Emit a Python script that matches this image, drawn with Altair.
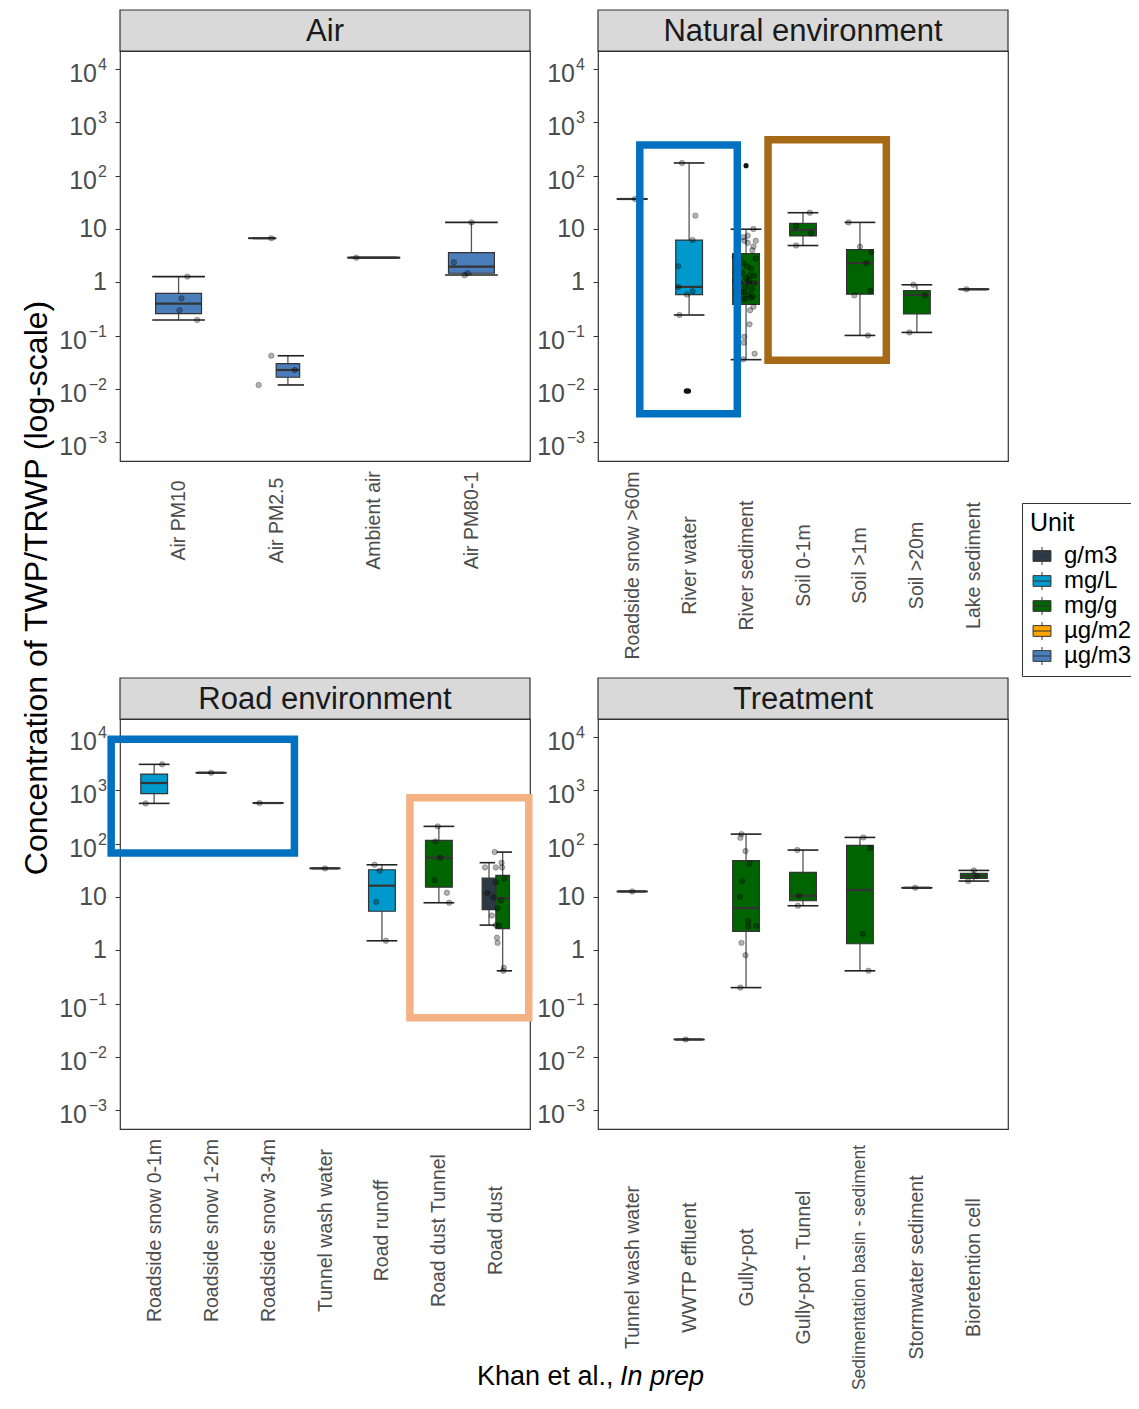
import altair as alt
import pandas as pd

# ---------------------------------------------------------------- legend / units
UNITS = ["g/m3", "mg/L", "mg/g", "µg/m2", "µg/m3"]
UNIT_COLORS = ["#2B3A44", "#0099CC", "#006400", "#FFA500", "#4A7EBB"]

Y_TICKS = [0.001, 0.01, 0.1, 1, 10, 100, 1000, 10000]
Y_TICK_BASE = ["10", "10", "10", "1", "10", "10", "10", "10"]
Y_TICK_EXP = ["−3", "−2", "−1", "", "", "2", "3", "4"]

# ---------------------------------------------------------------- Air
air_cats = ["Air PM10", "Air PM2.5", "Ambient air", "Air PM80-1"]
air_box_cat = ["Air PM10", "Air PM2.5", "Air PM2.5", "Ambient air", "Air PM80-1"]
air_box_unit = ["µg/m3", "µg/m2", "µg/m3", "µg/m3", "µg/m3"]
air_lo = [0.197, 6.7, 0.0119, 2.9, 1.37]
air_q1 = [0.26, 6.7, 0.0166, 2.9, 1.48]
air_med = [0.40, 6.7, 0.0227, 2.9, 1.97]
air_q3 = [0.62, 6.7, 0.030, 2.9, 3.6]
air_hi = [1.28, 6.7, 0.042, 2.9, 13.3]
air_pt_cat = ["Air PM10"] * 4 + ["Air PM2.5"] * 4 + ["Ambient air"] + ["Air PM80-1"] * 4
air_pt_val = [1.28, 0.50, 0.30, 0.197, 6.7, 0.042, 0.0119, 0.0227, 2.9, 13.3, 2.37, 1.48, 1.36]
air_pt_jit = [0.09, 0.03, 0.01, 0.19, -0.05, -0.05, -0.18, 0.19, -0.18, 0.0, -0.18, -0.04, -0.07]
air_out_cat = []
air_out_val = []
air_out_jit = []

# ---------------------------------------------------------------- Natural environment
nat_cats = ["Roadside snow >60m", "River water", "River sediment", "Soil 0-1m",
            "Soil >1m", "Soil >20m", "Lake sediment"]
nat_box_cat = nat_cats
nat_box_unit = ["mg/L", "mg/L", "mg/g", "mg/g", "mg/g", "mg/g", "mg/g"]
nat_lo = [36.5, 0.244, 0.0355, 4.9, 0.101, 0.115, 0.74]
nat_q1 = [36.5, 0.59, 0.387, 7.4, 0.60, 0.255, 0.74]
nat_med = [36.5, 0.82, 0.97, 9.6, 2.3, 0.58, 0.74]
nat_q3 = [36.5, 6.2, 3.45, 12.8, 4.1, 0.70, 0.74]
nat_hi = [36.5, 173, 9.9, 20.2, 13.3, 0.90, 0.74]
nat_sed_val = [10, 7, 7.5, 6, 6, 4.7, 4, 5.5, 2.9, 2.3, 2.8, 1.35, 1.35, 1.19, 0.96, 0.97,
               0.97, 0.79, 0.65, 0.65, 0.60, 0.51, 0.48, 0.49, 0.35, 0.30, 0.163, 0.095,
               0.074, 0.046, 0.036, 1.6, 0.7, 3.0, 0.42, 1.1, 0.58, 1.8, 0.55, 2.0, 1.5,
               0.75, 1.1]
nat_sed_jit = [0.13, -0.05, 0.03, 0.17, -0.03, 0.13, 0.11, 0.03, -0.11, -0.05, 0.17, 0.14,
               0.06, 0.0, -0.10, 0.04, 0.14, -0.01, -0.05, -0.09, 0.04, 0.08, -0.05, -0.01,
               0.13, 0.07, 0.06, -0.03, -0.04, 0.15, -0.05, -0.18, -0.17, -0.20, -0.16,
               -0.19, -0.18, 0.09, 0.12, 0.02, -0.07, 0.10, 0.05]
nat_pt_cat = (["Roadside snow >60m"] + ["River water"] * 9 + ["River sediment"] * len(nat_sed_val)
              + ["Soil 0-1m"] * 4 + ["Soil >1m"] * 7 + ["Soil >20m"] * 3 + ["Lake sediment"])
nat_pt_val = ([36.5] + [173, 17.8, 6.2, 2.0, 0.82, 0.59, 0.68, 0.244, 0.0092] + nat_sed_val
              + [20.2, 11.4, 8.3, 4.9] + [13.3, 4.67, 3.65, 2.3, 0.57, 0.70, 0.101]
              + [0.90, 0.57, 0.115] + [0.74])
nat_pt_jit = ([0.05] + [-0.125, 0.11, 0.06, -0.19, -0.19, -0.04, 0.06, -0.17, -0.03] + nat_sed_jit
              + [0.12, -0.12, 0.14, -0.12] + [-0.2, 0.0, 0.2, 0.11, -0.10, 0.18, 0.14]
              + [-0.06, 0.14, -0.13] + [-0.13])
nat_out_cat = ["River water", "River water", "River sediment"]
nat_out_val = [0.0092, 0.0092, 154]
nat_out_jit = [-0.05, -0.01, 0.0]

# ---------------------------------------------------------------- Road environment
road_cats = ["Roadside snow 0-1m", "Roadside snow 1-2m", "Roadside snow 3-4m",
             "Tunnel wash water", "Road runoff", "Road dust Tunnel", "Road dust"]
road_box_cat = road_cats + ["Road dust"]
road_box_unit = ["mg/L", "mg/L", "mg/L", "mg/L", "mg/L", "mg/g", "g/m3", "mg/g"]
road_lo = [569, 2140, 578, 34.4, 1.51, 7.8, 2.97, 0.413]
road_q1 = [865, 2140, 578, 34.4, 5.4, 15.3, 5.8, 2.55]
road_med = [1370, 2140, 578, 34.4, 16.3, 54.5, 11.7, 9.5]
road_q3 = [2020, 2140, 578, 34.4, 32.4, 115, 22.5, 25.5]
road_hi = [3070, 2140, 578, 34.4, 40.2, 211, 44, 69.5]
road_pt_cat = (["Roadside snow 0-1m"] * 2 + ["Roadside snow 1-2m", "Roadside snow 3-4m",
               "Tunnel wash water"] + ["Road runoff"] * 4 + ["Road dust Tunnel"] * 6
               + ["Road dust"] * 18)
road_pt_val = ([3070, 569, 2140, 578, 34.4, 40.2, 31, 8.1, 1.51,
                211, 110, 54.5, 20.7, 12, 7.8,
                69.5, 35.9, 35.9, 43.9, 35.9, 22.3, 19, 11.7, 9.8, 8.6, 6.1, 4.5, 2.97,
                2.88, 1.72, 1.38, 0.47, 0.413])
road_pt_jit = ([0.14, -0.15, 0.0, -0.15, 0.0, -0.13, -0.04, -0.10, 0.07,
                -0.02, -0.06, 0.02, -0.08, 0.14, 0.18,
                -0.02, -0.19, 0.0, 0.10, 0.11, 0.15, 0.0, -0.15, -0.04, 0.09, 0.03, -0.07,
                0.0, 0.06, 0.02, 0.03, 0.14, 0.13])
road_out_cat = []
road_out_val = []
road_out_jit = []

# ---------------------------------------------------------------- Treatment
trt_cats = ["Tunnel wash water", "WWTP effluent", "Gully-pot", "Gully-pot - Tunnel",
            "Sedimentation basin - sediment", "Stormwater sediment", "Bioretention cell"]
trt_box_cat = trt_cats
trt_box_unit = ["mg/L", "mg/L", "mg/g", "mg/g", "mg/g", "mg/g", "mg/g"]
trt_lo = [12.7, 0.0213, 0.20, 6.85, 0.413, 14.9, 19.9]
trt_q1 = [12.7, 0.0213, 2.26, 8.5, 1.33, 14.9, 22.3]
trt_med = [12.7, 0.0213, 6.2, 10.5, 13.5, 14.9, 24.7]
trt_q3 = [12.7, 0.0213, 47.9, 28.9, 92.8, 14.9, 27.7]
trt_hi = [12.7, 0.0213, 151, 75.9, 131, 14.9, 31.5]
trt_pt_cat = (["Tunnel wash water", "WWTP effluent"] + ["Gully-pot"] * 12
              + ["Gully-pot - Tunnel"] * 3 + ["Sedimentation basin - sediment"] * 4
              + ["Stormwater sediment"] + ["Bioretention cell"] * 3)
trt_pt_val = ([12.7, 0.0213, 151, 129, 72.6, 42, 19.9, 10.1, 3.5, 2.77, 2.85, 1.38, 0.81, 0.20,
               75.9, 10.5, 6.85, 131, 82.6, 2.04, 0.413, 14.9, 31.5, 19.9, 24.7])
trt_pt_jit = ([0.0, -0.06, -0.08, -0.10, -0.01, 0.06, -0.07, -0.11, 0.04, 0.04, 0.18, -0.08,
               -0.01, -0.10, -0.10, -0.07, -0.09, 0.06, 0.18, 0.05, 0.15, -0.03, 0.0, -0.10,
               0.05])
trt_out_cat = []
trt_out_val = []
trt_out_jit = []

# ---------------------------------------------------------------- highlight frames (data units)
HIGHLIGHTS = {
    "Natural environment": [(1.134, 2.846, 10 ** 2.575, 10 ** -2.463, "#0070C0"),
                            (3.386, 5.463, 10 ** 2.674, 10 ** -1.462, "#A66A17")],
    "Road environment": [(0.245, 3.463, 10 ** 3.96, 10 ** 1.823, "#0070C0"),
                         (5.491, 7.578, 10 ** 2.863, 10 ** -1.266, "#F4B183")],
}

W = 410
H = 410
STRIP = 41
Y_DOMAIN = [10 ** -3.35, 10 ** 4.3375]
LABEL_GRAY = "#4D4D4D"

LEGEND_SYMBOL = "M-1,-0.6H1V0.6H-1Z M-1,0H1 M0,-0.6V-1 M0,0.6V1"
legend = alt.Legend(
    title="Unit", orient="none", legendX=902, legendY=452,
    titleFontSize=25, titleFontWeight="normal", titleColor="#000000", titlePadding=8,
    labelFontSize=24, labelColor="#000000", labelOffset=10,
    symbolType=LEGEND_SYMBOL, symbolSize=320, symbolStrokeColor="#333333",
    symbolStrokeWidth=1, rowPadding=1,
    strokeColor="#333333", padding=8, fillColor="#FFFFFF",
)
fill_scale = alt.Scale(domain=UNITS, range=UNIT_COLORS)
ticks_df = pd.DataFrame({"v": Y_TICKS, "base": Y_TICK_BASE, "exp": Y_TICK_EXP})


def panel(name, cats, box_cat, box_unit, lo, q1, med, q3, hi,
          pt_cat, pt_val, pt_jit, out_cat, out_val, out_jit, label_pad,
          label_fs=19.5, ytitle=False, caption=False):
    n = len(cats)
    idx = {c: i + 1 for i, c in enumerate(cats)}
    counts = {}
    for c in box_cat:
        counts[c] = counts.get(c, 0) + 1
    seen = {}
    rows = []
    for c, u, a, b, m, d, e in zip(box_cat, box_unit, lo, q1, med, q3, hi):
        k = seen.get(c, 0)
        seen[c] = k + 1
        nn = counts[c]
        if nn == 1:
            cx, hw, cxc, chw = idx[c], 0.235, idx[c], 0.27
        else:
            off = k - (nn - 1) / 2
            cx, hw = idx[c] + off * 0.24, 0.12
            cxc, chw = idx[c] + off * 0.30, 0.135
        rows.append(dict(cat=c, unit=u, lo=a, q1=b, med=m, q3=d, hi=e,
                         cx=cx, bx1=cx - hw, bx2=cx + hw, cx1=cxc - chw, cx2=cxc + chw))
    boxes = pd.DataFrame(rows)
    pts = pd.DataFrame({"cat": pt_cat, "val": pt_val,
                        "xp": [idx[c] + j for c, j in zip(pt_cat, pt_jit)]})
    outs = pd.DataFrame({"cat": out_cat, "val": out_val,
                         "xp": [idx[c] + j for c, j in zip(out_cat, out_jit)]})

    xs = alt.Scale(domain=[0.4, n + 0.6], nice=False, zero=False)
    ys = alt.Scale(type="log", domain=Y_DOMAIN, nice=False)
    x_expr = "[" + ",".join("'%s'" % c for c in cats) + "][datum.value-1]"
    xaxis = alt.Axis(values=list(range(1, n + 1)), labelExpr=x_expr, ticks=False, tickSize=0,
                     domain=False, grid=False, labelAngle=270, labelAlign="center",
                     labelBaseline="middle", labelPadding=label_pad, labelFontSize=label_fs,
                     labelColor=LABEL_GRAY, labelLimit=600, labelOverlap=False,
                     labelFlush=False, title=None)
    yaxis = alt.Axis(values=Y_TICKS, labels=False, tickSize=5, tickColor="#333333",
                     domain=False, grid=False, title=None)

    def X(f):
        return alt.X(f, type="quantitative", scale=xs, axis=xaxis)

    def Y(f):
        return alt.Y(f, type="quantitative", scale=ys, axis=yaxis)

    base = alt.Chart(boxes)
    whisk = base.mark_rule(color="#555555", strokeWidth=1.3).encode(
        x=X("cx"), y=Y("lo"), y2="hi")
    cap_lo = base.mark_rule(color="#222222", strokeWidth=1.6).encode(
        x=X("cx1"), x2="cx2", y=Y("lo"))
    cap_hi = base.mark_rule(color="#222222", strokeWidth=1.6).encode(
        x=X("cx1"), x2="cx2", y=Y("hi"))
    box = base.mark_rect(stroke="#333333", strokeWidth=1.2).encode(
        x=X("bx1"), x2="bx2", y=Y("q1"), y2="q3",
        fill=alt.Fill("unit:N", scale=fill_scale, legend=legend))
    median = base.mark_rule(color="#333333", strokeWidth=2.2).encode(
        x=X("bx1"), x2="bx2", y=Y("med"))
    points = alt.Chart(pts).mark_circle(
        size=30, fill="#000000", fillOpacity=0.3, stroke="#000000",
        strokeOpacity=0.35, strokeWidth=0.8).encode(x=X("xp"), y=Y("val"))
    layers = [whisk, cap_lo, cap_hi, box, median, points]
    if len(outs):
        layers.append(alt.Chart(outs).mark_circle(size=26, color="#111111", opacity=1).encode(
            x=X("xp"), y=Y("val")))
    hl = HIGHLIGHTS.get(name, [])
    if hl:
        hdf = pd.DataFrame(hl, columns=["x1", "x2", "y1", "y2", "col"])
        layers.append(alt.Chart(hdf).mark_rect(fillOpacity=0, strokeWidth=7.5,
                                                strokeJoin="miter").encode(
            x=X("x1"), x2="x2", y=Y("y1"), y2="y2",
            stroke=alt.Stroke("col:N", scale=None)))

    # y tick labels: base number plus superscript exponent
    tk = alt.Chart(ticks_df)
    layers.append(tk.transform_filter("datum.exp == ''").mark_text(
        fontSize=25, color=LABEL_GRAY, align="right", baseline="middle").encode(
        x=alt.value(-13), y=Y("v"), text="base:N"))
    layers.append(tk.transform_filter("datum.exp != '' && indexof(datum.exp, '−') < 0")
                  .mark_text(fontSize=25, color=LABEL_GRAY, align="right", baseline="middle",
                             dy=5).encode(x=alt.value(-23), y=Y("v"), text="base:N"))
    layers.append(tk.transform_filter("indexof(datum.exp, '−') >= 0")
                  .mark_text(fontSize=25, color=LABEL_GRAY, align="right", baseline="middle",
                             dy=5).encode(x=alt.value(-33), y=Y("v"), text="base:N"))
    layers.append(tk.transform_filter("datum.exp != ''")
                  .mark_text(fontSize=16, color=LABEL_GRAY, align="right", baseline="middle",
                             dy=-4).encode(x=alt.value(-13), y=Y("v"), text="exp:N"))

    one = pd.DataFrame({"k": [0]})
    layers.append(alt.Chart(one).mark_rect(fill="#D9D9D9", stroke="#333333", strokeWidth=1.2)
                  .encode(x=alt.value(0), x2=alt.value(W), y=alt.value(-STRIP), y2=alt.value(0)))
    layers.append(alt.Chart(one).mark_text(text=name, fontSize=31, color="#1A1A1A",
                                           baseline="middle", align="center")
                  .encode(x=alt.value(W / 2), y=alt.value(-STRIP / 2 + 1)))
    if ytitle:
        layers.append(alt.Chart(one).mark_text(
            text="Concentration of TWP/TRWP (log-scale)", fontSize=32, angle=270,
            color="#000000", align="center", baseline="middle")
            .encode(x=alt.value(-83), y=alt.value(537)))
    if caption:
        layers.append(alt.Chart(one).mark_text(
            text="Khan et al.,", fontSize=27, color="#000000", align="left",
            baseline="alphabetic").encode(x=alt.value(357), y=alt.value(666)))
        layers.append(alt.Chart(one).mark_text(
            text="In prep", fontSize=27, fontStyle="italic", color="#000000", align="left",
            baseline="alphabetic").encode(x=alt.value(500), y=alt.value(666)))
    return alt.layer(*layers).properties(width=W, height=H)


p_air = panel("Air", air_cats, air_box_cat, air_box_unit, air_lo, air_q1, air_med, air_q3,
              air_hi, air_pt_cat, air_pt_val, air_pt_jit, air_out_cat, air_out_val,
              air_out_jit, 59, ytitle=True)
p_nat = panel("Natural environment", nat_cats, nat_box_cat, nat_box_unit, nat_lo, nat_q1,
              nat_med, nat_q3, nat_hi, nat_pt_cat, nat_pt_val, nat_pt_jit, nat_out_cat,
              nat_out_val, nat_out_jit, 104)
p_road = panel("Road environment", road_cats, road_box_cat, road_box_unit, road_lo, road_q1,
               road_med, road_q3, road_hi, road_pt_cat, road_pt_val, road_pt_jit,
               road_out_cat, road_out_val, road_out_jit, 101, caption=True)
p_trt = panel("Treatment", trt_cats, trt_box_cat, trt_box_unit, trt_lo, trt_q1, trt_med,
              trt_q3, trt_hi, trt_pt_cat, trt_pt_val, trt_pt_jit, trt_out_cat, trt_out_val,
              trt_out_jit, 138,
              label_fs={"condition": {"test": "datum.value == 5", "value": 17.5},
                        "value": 19.5})

chart = alt.ConcatChart(
    concat=[p_air, p_nat, p_road, p_trt], columns=2,
    spacing=alt.RowColnumber(row=258, column=68), bounds="flush",
).resolve_scale(x="independent", y="independent", fill="shared").properties(
    autosize=alt.AutoSizeParams(type="none"),
    padding={"left": 112, "top": 43, "right": 1011, "bottom": 1346},
).configure(font="Liberation Sans").configure_view(stroke="#333333", strokeWidth=1.2)

chart.save("out.html", embed_options={"renderer": "svg", "actions": False})
